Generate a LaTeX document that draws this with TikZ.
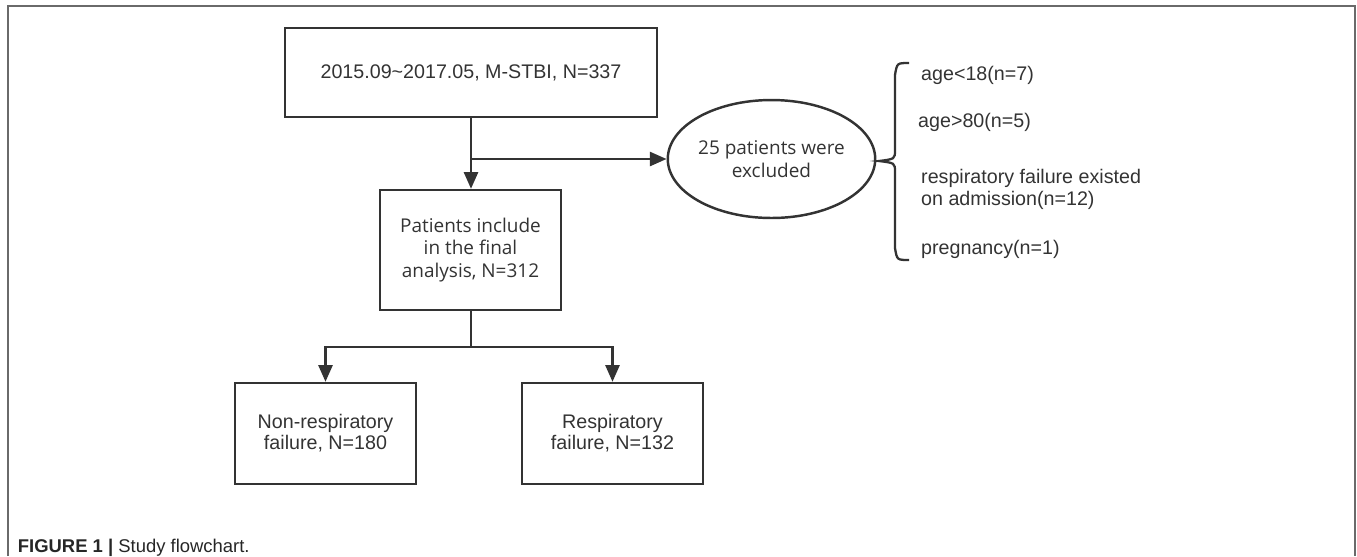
\documentclass[tikz,border=0pt]{standalone}
\usepackage{fontspec}
\setmainfont{Liberation Sans}
\newfontfamily\yhfont{Open Sans}
\usetikzlibrary{arrows.meta,shapes.geometric}
\definecolor{linegray}{HTML}{333333}
\definecolor{framegray}{HTML}{6A6A6A}

\begin{document}
\begin{tikzpicture}[x=0.02cm,y=-0.02cm,
  every node/.style={text=linegray},
  box/.style={draw=linegray,line width=1.4pt,inner sep=0pt,align=center},
  arr/.style={draw=linegray,line width=1.4pt,-{Triangle[length=9.5pt,width=8pt]}},
  lnk/.style={draw=linegray,line width=1.4pt},
  arialtext/.style={font=\fontsize{11.2}{12}\selectfont},
  yhtext/.style={font=\yhfont\fontsize{10.8}{13}\selectfont},
  item/.style={anchor=west,align=left,font=\fontsize{11.2}{12.5}\selectfont}]

\useasboundingbox (0,0) rectangle (1357,556);

%% frame, open at the bottom
\draw[framegray,line width=1.1pt] (8,556) -- (8,6) -- (1355,6) -- (1355,556);

%% boxes
\node[box,arialtext,minimum width=7.44cm,minimum height=1.78cm] (start) at (471,72.5)
  {2015.09\textasciitilde2017.05, M-STBI, N=337};
\node[box,yhtext,minimum width=3.62cm,minimum height=2.4cm] (incl) at (470.5,250)
  {Patients include\\in the final\\analysis, N=312};
\node[draw=linegray,line width=1.4pt,ellipse,inner sep=0pt,align=center,yhtext,
  minimum width=4.02cm,minimum height=2.36cm] (excl) at (771.5,159)
  {25 patients were\\excluded};
\node[box,arialtext,minimum width=3.62cm,minimum height=2.02cm] (nonrf) at (325.5,433.5)
  {Non-respiratory\\failure, N=180};
\node[box,arialtext,minimum width=3.62cm,minimum height=2.02cm] (rf) at (612.5,433.5)
  {Respiratory\\failure, N=132};

%% junctions
\coordinate (j1) at (471,159);
\coordinate (j2) at (471,347);

%% edges
\draw[arr] (start.south -| j1) -- (incl.north -| j1);   %% start -> incl
\draw[arr] (j1) -- (excl.west);                         %% j1 -> excl
\draw[lnk] (incl.south -| j2) -- (j2);                  %% incl -> j2
\draw[arr] (j2) -| (nonrf.north);                       %% j2 -> nonrf
\draw[arr] (j2) -| (rf.north);                          %% j2 -> rf

%% brace
\draw[linegray,line width=1.3pt] (909,63) .. controls (897,63) .. (895,75) -- (895,150)
  .. controls (895,159) .. (879,161) .. controls (895,163) .. (895,172) -- (895,248)
  .. controls (897,260) .. (909,260);

%% exclusion reasons
\node[item] (r1) at (915,75) {age<18(n=7)};
\node[item] (r2) at (912,122) {age>80(n=5)};
\node[item] (r3) at (915,189) {respiratory failure existed\\on admission(n=12)};
\node[item] (r4) at (915,249) {pregnancy(n=1)};

%% caption
\node[anchor=base east,inner sep=0pt,font=\fontsize{10.5}{12}\selectfont,text=black!85] (cap) at (250,552)
  {\textbf{FIGURE 1 |} Study flowchart.};
\end{tikzpicture}
\end{document}
